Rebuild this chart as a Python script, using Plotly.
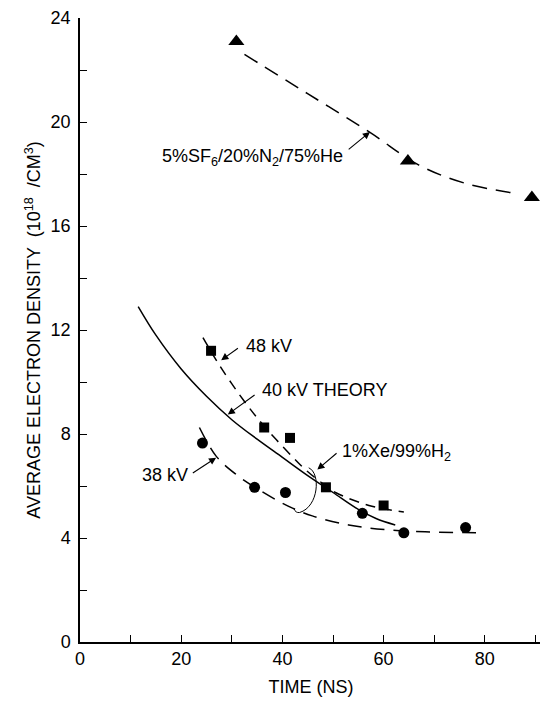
import plotly.graph_objects as go

# ---- data ----
sf6_time = [30.9, 64.8, 89.3]
sf6_density = [23.1, 18.5, 17.1]

kv48_time = [25.9, 36.4, 41.5, 48.6, 60.0]
kv48_density = [11.2, 8.25, 7.85, 5.95, 5.25]

kv38_time = [24.2, 34.5, 40.6, 55.8, 64.0, 76.2]
kv38_density = [7.65, 5.95, 5.75, 4.95, 4.2, 4.4]

theory_time = [11.5, 15.0, 20.0, 25.0, 30.0, 35.0, 40.0, 45.0, 50.0, 55.0, 58.5, 62.3]
theory_density = [12.9, 11.8, 10.5, 9.45, 8.55, 7.8, 7.1, 6.4, 5.75, 5.1, 4.75, 4.5]

fit48_time = [24.3, 27.6, 32.5, 36.4, 42.0, 44.6, 48.6, 50.5, 57.1, 64.0]
fit48_density = [11.71, 10.63, 9.25, 8.3, 7.12, 6.62, 6.0, 5.75, 5.25, 5.0]

fit38_time = [23.6, 26.9, 30.8, 35.4, 39.4, 42.0, 45.9, 53.1, 60.4, 68.2, 80.0]
fit38_density = [8.25, 7.15, 6.45, 5.85, 5.4, 5.15, 4.85, 4.5, 4.32, 4.24, 4.2]

fitsf6_time = [32.5, 44.9, 57.3, 66.9, 76.0, 86.2]
fitsf6_density = [22.6, 21.1, 19.6, 18.35, 17.65, 17.25]

x_ticks = [0, 10, 20, 30, 40, 50, 60, 70, 80, 90]
x_ticktext = ["0", "", "20", "", "40", "", "60", "", "80", ""]
y_ticks = [0, 2, 4, 6, 8, 10, 12, 14, 16, 18, 20, 22, 24]
y_ticktext = ["0", "", "4", "", "8", "", "12", "", "16", "", "20", "", "24"]

FONT = "Liberation Sans, Arial, Helvetica, sans-serif"
INK = "black"

fig = go.Figure()

# fitted / theory curves
fig.add_trace(go.Scatter(x=fitsf6_time, y=fitsf6_density, mode="lines",
                         line=dict(color=INK, width=1.5, dash="15px,9px", shape="spline"),
                         showlegend=False, hoverinfo="skip"))
fig.add_trace(go.Scatter(x=fit48_time, y=fit48_density, mode="lines",
                         line=dict(color=INK, width=1.5, dash="10px,7px", shape="spline"),
                         showlegend=False, hoverinfo="skip"))
fig.add_trace(go.Scatter(x=fit38_time, y=fit38_density, mode="lines",
                         line=dict(color=INK, width=1.5, dash="14px,9px", shape="spline"),
                         showlegend=False, hoverinfo="skip"))
fig.add_trace(go.Scatter(x=theory_time, y=theory_density, mode="lines",
                         line=dict(color=INK, width=1.5, shape="spline"),
                         showlegend=False, hoverinfo="skip"))

# measured points
fig.add_trace(go.Scatter(x=sf6_time, y=sf6_density, mode="markers", cliponaxis=False,
                         marker=dict(symbol="triangle-up", size=14, color=INK),
                         name="5%SF6/20%N2/75%He", showlegend=False))
fig.add_trace(go.Scatter(x=kv48_time, y=kv48_density, mode="markers", cliponaxis=False,
                         marker=dict(symbol="square", size=10, color=INK),
                         name="48 kV", showlegend=False))
fig.add_trace(go.Scatter(x=kv38_time, y=kv38_density, mode="markers", cliponaxis=False,
                         marker=dict(symbol="circle", size=11, color=INK),
                         name="38 kV", showlegend=False))

# bracket grouping the 1%Xe/99%H2 curves
fig.add_shape(type="path",
              path="M 45.2,6.7 C 47.6,6.5 47.2,5.2 43.4,4.98 Q 42.6,4.96 42.3,5.12",
              xref="x", yref="y", line=dict(color=INK, width=1))

# labels
labels = [
    dict(text="5%SF<sub>6</sub>/20%N<sub>2</sub>/75%He", x=52.3, y=18.65, xanchor="right"),
    dict(text="48 kV", x=32.4, y=11.4, xanchor="left"),
    dict(text="40 kV THEORY", x=35.6, y=9.7, xanchor="left"),
    dict(text="1%Xe/99%H<sub>2</sub>", x=51.4, y=7.3, xanchor="left"),
    dict(text="38 kV", x=21.7, y=6.44, xanchor="right"),
]
for lab in labels:
    fig.add_annotation(text=lab["text"], x=lab["x"], y=lab["y"], xref="x", yref="y",
                       xanchor=lab["xanchor"], yanchor="middle", showarrow=False,
                       font=dict(family=FONT, size=18, color=INK))

# arrows (tail -> head)
arrows = [
    ((52.8, 18.9), (57.3, 19.62)),
    ((31.5, 11.34), (27.9, 10.84)),
    ((34.8, 9.54), (29.2, 8.75)),
    ((51.0, 7.31), (46.9, 6.63)),
    ((22.0, 6.46), (26.9, 7.09)),
]
for (tx, ty), (hx, hy) in arrows:
    fig.add_annotation(text="", x=hx, y=hy, ax=tx, ay=ty, xref="x", yref="y",
                       axref="x", ayref="y", showarrow=True, arrowhead=2,
                       arrowsize=1.3, arrowwidth=1.1, arrowcolor=INK, standoff=0)

# page body adds an 8px offset, so the figure is sized to fit the window
fig.update_layout(
    width=540, height=695,
    margin=dict(l=72, r=6, t=10, b=61),
    paper_bgcolor="white", plot_bgcolor="white",
    font=dict(family=FONT, size=17, color=INK),
    xaxis=dict(range=[0, 91.3], tickvals=x_ticks, ticktext=x_ticktext,
               ticks="inside", ticklen=7, tickwidth=1.2, tickcolor=INK,
               showline=True, linewidth=1.5, linecolor=INK,
               showgrid=False, zeroline=False, automargin=False,
               ticklabeloverflow="allow",
               tickfont=dict(family=FONT, size=18, color=INK),
               title=dict(text="TIME (NS)", standoff=12,
                          font=dict(family=FONT, size=18, color=INK))),
    yaxis=dict(range=[0, 24], tickvals=y_ticks, ticktext=y_ticktext,
               ticks="inside", ticklen=7, tickwidth=1.2, tickcolor=INK,
               showline=True, linewidth=1.5, linecolor=INK,
               showgrid=False, zeroline=False, ticklabelstandoff=4, automargin=False,
               ticklabeloverflow="allow",
               tickfont=dict(family=FONT, size=18, color=INK),
               title=dict(text="AVERAGE ELECTRON DENSITY  (10<sup>18</sup>  /CM<sup>3</sup>)",
                          standoff=5,
                          font=dict(family=FONT, size=18, color=INK))),
)

fig.write_html("out.html")
